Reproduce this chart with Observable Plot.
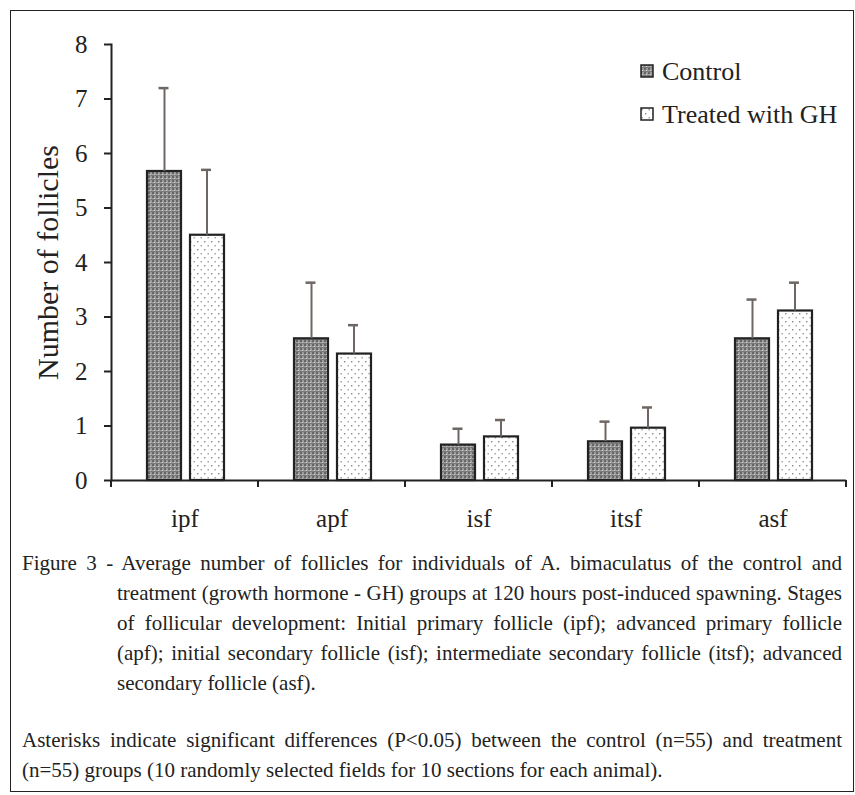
<!DOCTYPE html>
<html>
<head>
<meta charset="utf-8">
<script src="https://cdn.jsdelivr.net/npm/d3@7"></script>
<script src="https://cdn.jsdelivr.net/npm/@observablehq/plot@0.6"></script>
<style>
  html, body { margin: 0; padding: 0; background: #fff; }
  body { width: 855px; height: 795px; position: relative; overflow: hidden; font-family: "Liberation Serif", Tinos, "Times New Roman", Times, "DejaVu Serif", serif; color: #222; }
  #border { position: absolute; left: 10px; top: 10px; width: 844px; height: 782px; border: 1.5px solid #222; box-sizing: border-box; }
  #chart { position: absolute; left: 0; top: 0; }
  #caption { position: absolute; left: 22px; top: 548px; width: 820px; font-size: 21px; line-height: 30px; color: #222; }
  .ln { white-space: nowrap; text-align: justify; text-align-last: justify; }
  .ln.last { text-align-last: left; }
  .ind { padding-left: 95px; }
  .gap { height: 27px; }
</style>
</head>
<body>
<div id="border"></div>
<div id="chart"></div>
<div id="caption">
  <div class="ln">Figure 3 - Average number of follicles for individuals of A. bimaculatus of the control and</div>
  <div class="ln ind">treatment (growth hormone - GH) groups at 120 hours post-induced spawning. Stages</div>
  <div class="ln ind">of follicular development: Initial primary follicle (ipf); advanced primary follicle</div>
  <div class="ln ind">(apf); initial secondary follicle (isf); intermediate secondary follicle (itsf); advanced</div>
  <div class="ln ind last">secondary follicle (asf).</div>
  <div class="gap"></div>
  <div class="ln">Asterisks indicate significant differences (P&lt;0.05) between the control (n=55) and treatment</div>
  <div class="ln last">(n=55) groups (10 randomly selected fields for 10 sections for each animal).</div>
</div>
<script>
// ---- data ----
const categories = ["ipf", "apf", "isf", "itsf", "asf"];
const controlMean = [5.67, 2.60, 0.65, 0.71, 2.60];
const controlSd   = [1.53, 1.03, 0.30, 0.37, 0.72];
const treatedMean = [4.50, 2.32, 0.80, 0.96, 3.11];
const treatedSd   = [1.20, 0.53, 0.31, 0.38, 0.52];
const seriesNames = ["Control", "Treated with GH"];
const yTicks = [0, 1, 2, 3, 4, 5, 6, 7, 8];

const control = categories.map((c, i) => ({cat: c, mean: controlMean[i], top: controlMean[i] + controlSd[i]}));
const treated = categories.map((c, i) => ({cat: c, mean: treatedMean[i], top: treatedMean[i] + treatedSd[i]}));

const ink = "#222";
const errColor = "#6e6663";
const serif = "'Liberation Serif', Tinos, 'Times New Roman', Times, 'DejaVu Serif', serif";

const chart = Plot.plot({
  width: 855,
  height: 545,
  marginLeft: 111,
  marginRight: 9,
  marginTop: 44,
  marginBottom: 65,
  style: {color: ink, background: "transparent"},
  x: {domain: categories, padding: 0},
  y: {domain: [0, 8]},
  marks: [
    Plot.axisY({ticks: yTicks, tickSize: 7, tickPadding: 17, fontSize: 25, strokeWidth: 2, stroke: ink, fill: ink, label: null, tickFormat: d => d}),
    Plot.axisX({tickSize: 0, tickPadding: 29, fontSize: 25, fill: ink, label: null}),
    Plot.frame({anchor: "left", stroke: ink, strokeWidth: 2}),
    Plot.text(["Number of follicles"], {frameAnchor: "left", dx: -63, rotate: -90, fontSize: 30, fill: ink, textAnchor: "middle"}),
    // bars
    Plot.barY(control, {x: "cat", y: "mean", fill: "url(#patCtrl)", stroke: ink, strokeWidth: 2.2, insetLeft: 36, insetRight: 77}),
    Plot.barY(treated, {x: "cat", y: "mean", fill: "url(#patTreat)", stroke: ink, strokeWidth: 2.2, insetLeft: 79, insetRight: 34}),
    // error bars
    Plot.ruleX(control, {x: "cat", y1: "mean", y2: "top", dx: -20.5, stroke: errColor, strokeWidth: 2}),
    Plot.tickY(control, {x: "cat", y: "top", stroke: errColor, strokeWidth: 2.5, insetLeft: 47.5, insetRight: 89.5}),
    Plot.ruleX(treated, {x: "cat", y1: "mean", y2: "top", dx: 22, stroke: errColor, strokeWidth: 2}),
    Plot.tickY(treated, {x: "cat", y: "top", stroke: errColor, strokeWidth: 2.5, insetLeft: 90, insetRight: 47}),
    Plot.ruleY([0], {stroke: ink, strokeWidth: 2.2})
  ]
});

const svg = d3.select(chart);
// patterns
const defs = svg.insert("defs", ":first-child");
const pc = defs.append("pattern").attr("id", "patCtrl").attr("patternUnits", "userSpaceOnUse").attr("width", 4).attr("height", 4);
pc.append("rect").attr("width", 4).attr("height", 4).attr("fill", "#9c9c9c");
pc.append("rect").attr("x", 0).attr("y", 0).attr("width", 2).attr("height", 2).attr("fill", "#666");
pc.append("rect").attr("x", 2).attr("y", 2).attr("width", 1).attr("height", 1).attr("fill", "#cfcfcf");
pc.append("rect").attr("x", 0).attr("y", 3).attr("width", 4).attr("height", 1).attr("fill", "#7a7a7a");
const pt = defs.append("pattern").attr("id", "patTreat").attr("patternUnits", "userSpaceOnUse").attr("width", 7).attr("height", 8);
pt.append("rect").attr("width", 7).attr("height", 8).attr("fill", "#fff");
pt.append("rect").attr("x", 1).attr("y", 1).attr("width", 1.4).attr("height", 1.4).attr("fill", "#888");
pt.append("rect").attr("x", 4.5).attr("y", 5).attr("width", 1.4).attr("height", 1.4).attr("fill", "#999");

// category boundary ticks, from the plot's own x scale
const xs = chart.scale("x");
const ys = chart.scale("y");
const y0 = ys.apply(0);
const bounds = categories.map(c => xs.apply(c)).concat([xs.apply(categories[categories.length - 1]) + xs.bandwidth]);
svg.append("g").selectAll("line").data(bounds).join("line")
  .attr("x1", d => d).attr("x2", d => d).attr("y1", y0).attr("y2", y0 + 7)
  .attr("stroke", ink).attr("stroke-width", 2);

// legend
const lg = svg.append("g").attr("font-size", 26).attr("fill", ink).attr("text-anchor", "start");
const patIds = ["patCtrl", "patTreat"];
seriesNames.forEach((name, i) => {
  const cy = 71 + i * 43;
  lg.append("rect").attr("x", 641).attr("y", cy - 6).attr("width", 12).attr("height", 12)
    .attr("fill", `url(#${patIds[i]})`).attr("stroke", ink).attr("stroke-width", 1.5);
  lg.append("text").attr("x", 662).attr("y", cy).attr("dy", "0.35em").attr("text-anchor", "start").text(name);
});

// force serif font on every text element
svg.attr("font-family", serif).style("font-family", serif);
svg.selectAll("text").style("font-family", serif);

document.getElementById("chart").appendChild(chart);
</script>
</body>
</html>
